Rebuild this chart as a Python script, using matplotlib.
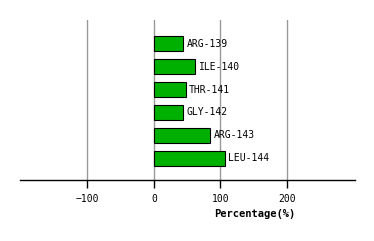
import matplotlib
matplotlib.use("Agg")
import matplotlib.pyplot as plt

residues = ["ARG-139", "ILE-140", "THR-141", "GLY-142", "ARG-143", "LEU-144"]
values = [44, 62, 48, 44, 85, 107]
xticks = [-100, 0, 100, 200]

fig = plt.figure(figsize=(3.74, 2.41), dpi=100)
ax = fig.add_axes([20/374, (241-180)/241, 335/374, 160/241])

ypos = list(range(len(residues)))
ax.barh(ypos, values, height=0.65, color="#00b000", edgecolor="black", linewidth=0.8, zorder=3)
for y, v, lab in zip(ypos, values, residues):
    ax.text(v + 5, y, lab, va="center", ha="left", fontsize=7,
            family="DejaVu Sans Mono", color="black", zorder=4)

ax.set_xlim(-201, 302)
ax.set_ylim(5.95, -1.04)
ax.set_xticks(xticks)
ax.set_xticklabels([str(t).replace("-", "\u2212") for t in xticks], fontsize=7, family="DejaVu Sans Mono")
ax.set_yticks([])
ax.grid(axis="x", color="#999999", linewidth=1.0, zorder=0)
for s in ["left", "right", "top"]:
    ax.spines[s].set_visible(False)
ax.spines["bottom"].set_linewidth(1.0)
ax.tick_params(axis="x", direction="out", length=6, width=1.0, pad=4)
fig.text(255/374, 1 - 214/241, "Percentage(%)", ha="center", va="center",
         fontsize=7.5, fontweight="bold", family="DejaVu Sans Mono")

fig.savefig("out.png", dpi=100)
